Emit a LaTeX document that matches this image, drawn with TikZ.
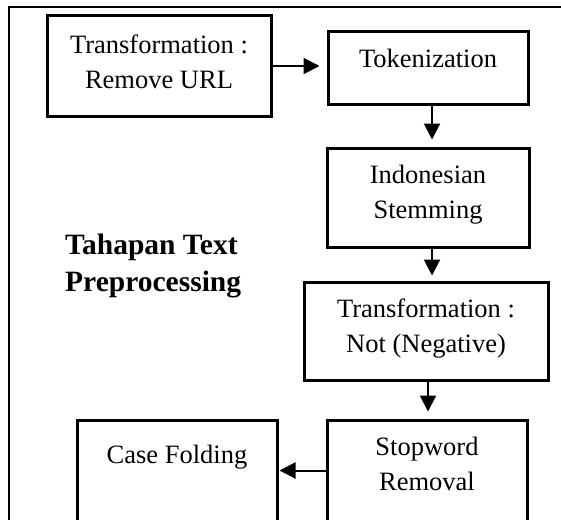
\documentclass[tikz,border=0pt]{standalone}
\usepackage{fontspec}
\setmainfont{Liberation Serif}
\usetikzlibrary{arrows.meta,positioning}

\begin{document}
\begin{tikzpicture}[
    x=1pt,y=-1pt,
    font=\fontsize{26.5}{35}\selectfont,
    block/.style={draw,line width=3pt,align=center,inner sep=0pt,minimum width=200pt},
    title/.style={font=\fontsize{29.5}{37}\selectfont\bfseries,align=left,inner sep=0pt},
    frame/.style={line width=2pt},
    arrow/.style={-{Triangle[length=16pt,width=16pt]},line width=2pt}
]
\useasboundingbox (0,0) rectangle (561,519);
\clip (0,0) rectangle (561,519);
% outer frame, open at the right
\draw[frame] (9,530) -- (9,7) -- (561,7);
% steps
\node[block,minimum width=224pt,minimum height=100pt,text depth=9.3pt] (url) at (159,66) {Transformation :\\Remove URL};
\node[block,minimum height=72pt,text depth=20.3pt] (tok) at (428,68) {Tokenization};
\node[block,minimum width=202pt,minimum height=99pt,text depth=12.3pt] (stem) at (428,197.5) {Indonesian\\Stemming};
\node[block,minimum width=244pt,minimum height=98pt,text depth=11.3pt] (neg) at (426,331) {Transformation :\\Not (Negative)};
\node[block,minimum height=101pt,text depth=14.3pt] (stop) at (427,470.5) {Stopword\\Removal};
\node[block,minimum height=101pt,text depth=33.3pt] (case) at (177,470.5) {Case Folding};
\node[title,anchor=west] (head) at (65,266) {Tahapan Text\\Preprocessing};
% flow
\draw[arrow,shorten >=7pt] (url.east) -- (url.east -| tok.west);
\draw[arrow,shorten >=7pt] ([xshift=4pt]tok.south) -- ([xshift=4pt]stem.north);
\draw[arrow,shorten >=5pt] ([xshift=4pt]stem.south) -- ([xshift=4pt]stem.south |- neg.north);
\draw[arrow,shorten >=7pt] ([xshift=2pt]neg.south) -- ([xshift=2pt]neg.south |- stop.north);
\draw[arrow,shorten >=1pt] (stop.west) -- (case.east);
\end{tikzpicture}
\end{document}
